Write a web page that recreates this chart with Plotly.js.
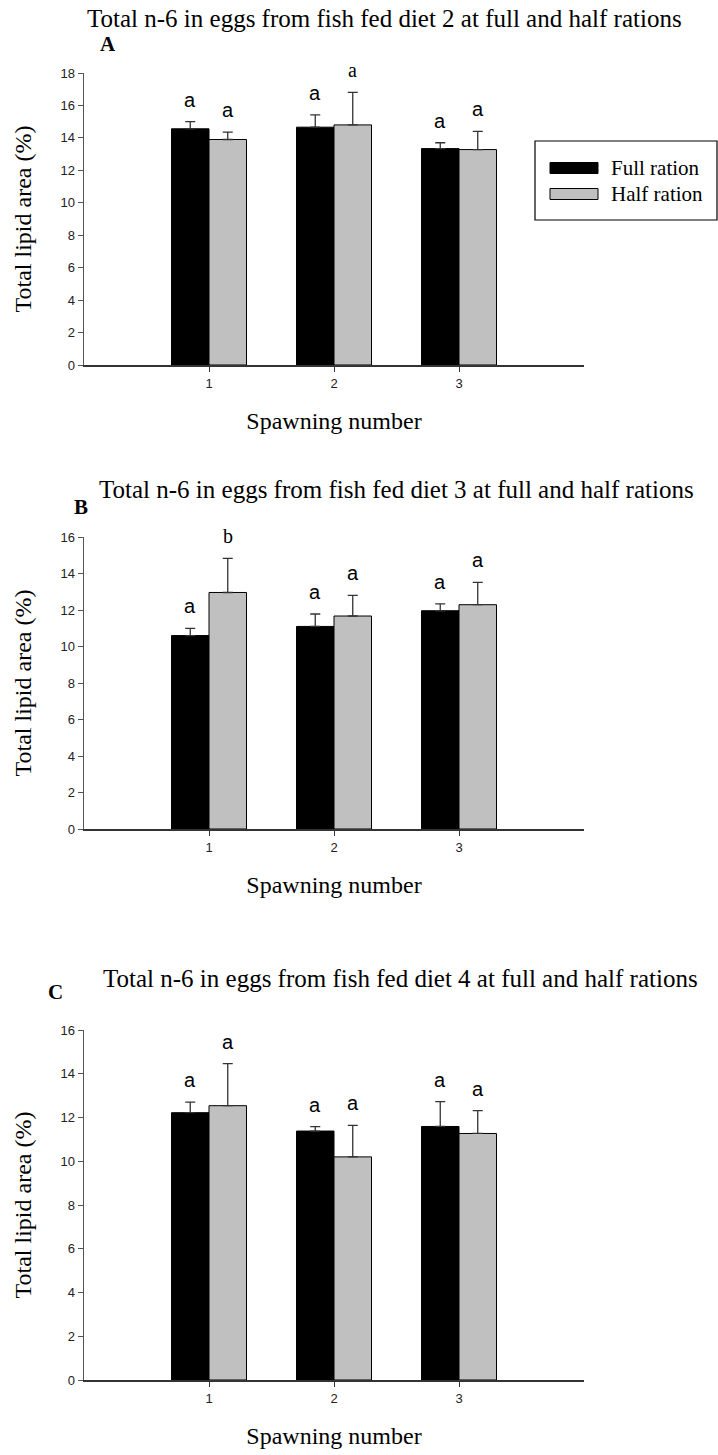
<!DOCTYPE html>
<html>
<head>
<meta charset="utf-8">
<script src="https://cdn.plot.ly/plotly-3.0.1.min.js"></script>
<style>html,body{margin:0;padding:0;background:#fff;}#chart{width:718px;height:1455px;}</style>
</head>
<body>
<div id="chart"></div>
<script>
// ---- data ----
const spawning = [1, 2, 3];
const seriesNames = ['Full ration', 'Half ration'];
const panelLetters = ['A', 'B', 'C'];
const panelTitles = [
  'Total n-6 in eggs from fish fed diet 2 at full and half rations',
  'Total n-6 in eggs from fish fed diet 3 at full and half rations',
  'Total n-6 in eggs from fish fed diet 4 at full and half rations'
];
const yMax = [18, 16, 16];

const fullA = [14.56, 14.66, 13.34];
const fullAErr = [0.44, 0.76, 0.36];
const halfA = [13.90, 14.80, 13.28];
const halfAErr = [0.45, 2.00, 1.12];

const fullB = [10.60, 11.10, 11.96];
const fullBErr = [0.39, 0.68, 0.38];
const halfB = [12.96, 11.67, 12.29];
const halfBErr = [1.87, 1.13, 1.22];

const fullC = [12.22, 11.38, 11.59];
const fullCErr = [0.48, 0.20, 1.14];
const halfC = [12.54, 10.20, 11.27];
const halfCErr = [1.92, 1.44, 1.04];

const lettersFullA = ['a', 'a', 'a'];
const lettersHalfA = ['a', 'a', 'a'];
const lettersFullB = ['a', 'a', 'a'];
const lettersHalfB = ['b', 'a', 'a'];
const lettersFullC = ['a', 'a', 'a'];
const lettersHalfC = ['a', 'a', 'a'];

// ---- build ----
const panels = [
  {full: fullA, fullErr: fullAErr, half: halfA, halfErr: halfAErr, lf: lettersFullA, lh: lettersHalfA},
  {full: fullB, fullErr: fullBErr, half: halfB, halfErr: halfBErr, lf: lettersFullB, lh: lettersHalfB},
  {full: fullC, fullErr: fullCErr, half: halfC, halfErr: halfCErr, lf: lettersFullC, lh: lettersHalfC}
];
// letters drawn in a serif face in the original
const serifLetter = {'0-1-1': true, '1-1-0': true};

const W = 718, H = 1455;
const M = {l: 84, r: 134, t: 0, b: 75};
const PH = H - M.t - M.b, PW = W - M.l - M.r;
const px2x = p => (p - M.l) / PW;
const px2y = p => 1 - (p - M.t) / PH;
// pixel rows of top / bottom of each plot area
const plotRows = [[73, 365], [537, 829], [1030, 1380]];

const SERIF = '"Liberation Serif", "Times New Roman", serif';
const SANS = '"Liberation Sans", Arial, sans-serif';
const colors = ['#000000', '#c0c0c0'];

const traces = [];
const annotations = [];
const layout = {
  width: W, height: H,
  margin: M,
  paper_bgcolor: '#fff', plot_bgcolor: '#fff',
  barmode: 'group', bargap: 0.4, bargroupgap: 0,
  showlegend: false,
  font: {family: SANS, color: '#222'},
  shapes: [],
  annotations: annotations
};

panels.forEach((p, i) => {
  const xa = i === 0 ? 'x' : 'x' + (i + 1);
  const ya = i === 0 ? 'y' : 'y' + (i + 1);
  const vals = [p.full, p.half], errs = [p.fullErr, p.halfErr], lets = [p.lf, p.lh];
  [0, 1].forEach(s => {
    traces.push({
      type: 'bar', x: spawning, y: vals[s], name: seriesNames[s],
      xaxis: xa, yaxis: ya,
      marker: {color: colors[s], line: {color: '#000', width: 1}},
      error_y: {type: 'data', symmetric: false, array: errs[s], arrayminus: spawning.map(() => 0),
                color: '#333', thickness: 1.3, width: 5},
      hoverinfo: 'x+y'
    });
    spawning.forEach((g, k) => {
      const serif = serifLetter[i + '-' + s + '-' + k];
      annotations.push({
        xref: xa, yref: ya, x: g + (s === 0 ? -0.15 : 0.15), y: vals[s][k] + errs[s][k],
        text: lets[s][k], showarrow: false, yanchor: 'middle', yshift: 22,
        font: serif ? {family: SERIF, size: 20, color: '#000'} : {family: SANS, size: 20, color: '#000'}
      });
    });
  });
  const rows = plotRows[i];
  layout['xaxis' + (i === 0 ? '' : i + 1)] = {
    domain: [0, 1], anchor: ya, range: [0, 4],
    tickmode: 'array', tickvals: spawning, ticktext: spawning.map(String),
    ticks: 'outside', ticklen: 5, tickwidth: 1, tickcolor: '#333',
    showline: true, linecolor: '#333', linewidth: 2,
    showgrid: false, zeroline: false, fixedrange: true,
    tickfont: {family: SANS, size: 13, color: '#222'},
    title: {text: 'Spawning number', font: {family: SERIF, size: 24, color: '#000'}, standoff: 23}
  };
  layout['yaxis' + (i === 0 ? '' : i + 1)] = {
    domain: [px2y(rows[1]), px2y(rows[0])], anchor: xa, range: [0, yMax[i]],
    dtick: 2, tick0: 0,
    ticks: 'outside', ticklen: 5, tickwidth: 1, tickcolor: '#555',
    showline: true, linecolor: '#555', linewidth: 1.5,
    showgrid: false, zeroline: false, fixedrange: true,
    tickfont: {family: SANS, size: 13, color: '#222'},
    title: {text: 'Total lipid area (%)', font: {family: SERIF, size: 24, color: '#000'}, standoff: 22}
  };
});

// panel titles and letters
const titleRows = [18, 489, 978];
const titleCenters = [384, 396, 400];
const letterPos = [[108, 44], [81, 507], [55, 992]];
panelTitles.forEach((t, i) => {
  annotations.push({xref: 'paper', yref: 'paper', x: px2x(titleCenters[i]), y: px2y(titleRows[i]),
    text: t, showarrow: false, xanchor: 'center', yanchor: 'middle',
    font: {family: SERIF, size: 25, color: '#000'}});
  annotations.push({xref: 'paper', yref: 'paper', x: px2x(letterPos[i][0]), y: px2y(letterPos[i][1]),
    text: '<b>' + panelLetters[i] + '</b>', showarrow: false, xanchor: 'center', yanchor: 'middle',
    font: {family: SERIF, size: 21, color: '#000'}});
});

// legend box (panel A)
layout.shapes.push({type: 'rect', xref: 'paper', yref: 'paper',
  x0: px2x(535), x1: px2x(717), y0: px2y(220), y1: px2y(141),
  line: {color: '#000', width: 1.2}, fillcolor: 'rgba(0,0,0,0)'});
const legRows = [168, 194];
seriesNames.forEach((n, s) => {
  layout.shapes.push({type: 'rect', xref: 'paper', yref: 'paper',
    x0: px2x(550), x1: px2x(598), y0: px2y(legRows[s] + 5.5), y1: px2y(legRows[s] - 5.5),
    line: {color: '#000', width: 1}, fillcolor: colors[s]});
  annotations.push({xref: 'paper', yref: 'paper', x: px2x(609), y: px2y(legRows[s]),
    text: n, showarrow: false, xanchor: 'left', yanchor: 'middle',
    font: {family: SERIF, size: 21, color: '#000'}});
});

Plotly.newPlot('chart', traces, layout, {displayModeBar: false, staticPlot: true});
</script>
</body>
</html>
